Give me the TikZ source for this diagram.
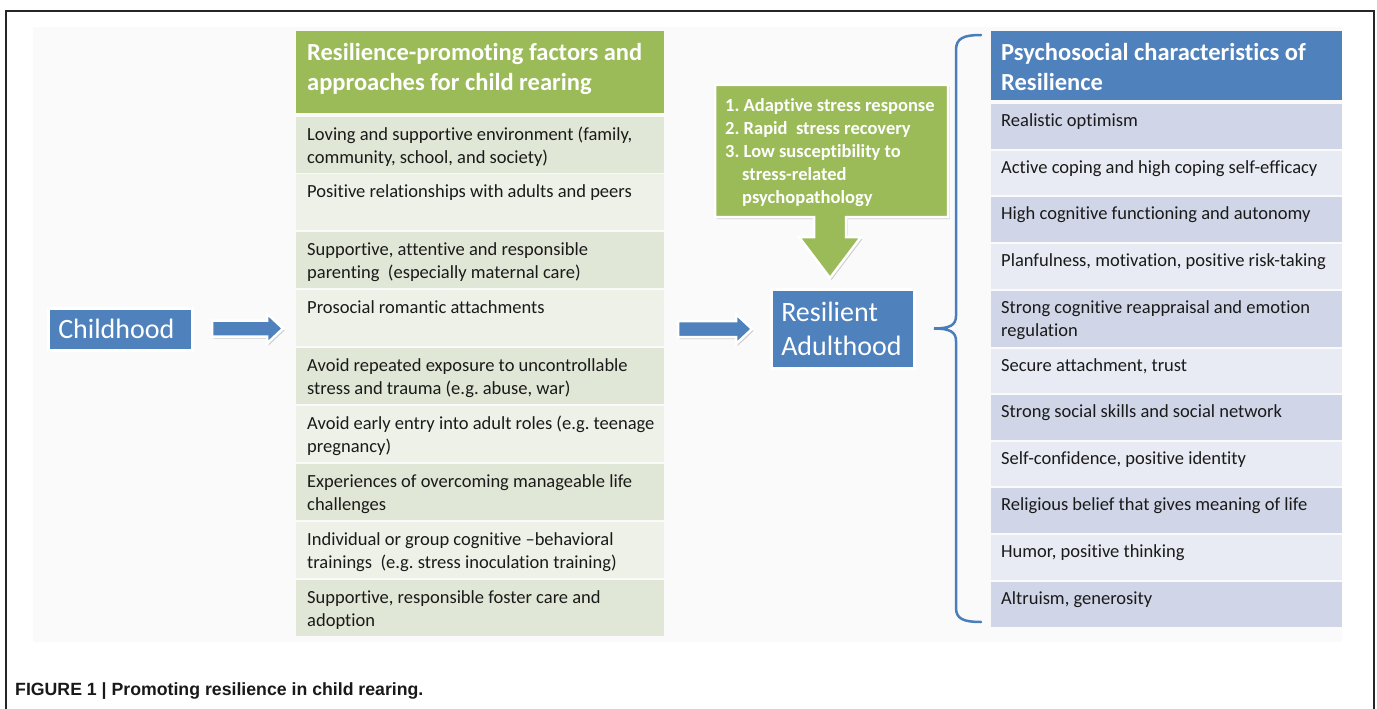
\documentclass[tikz,border=0pt]{standalone}
\usepackage{fontspec}
\setmainfont{Carlito}[Ligatures=NoCommon]
\newfontfamily\capfont{Liberation Sans}
\usetikzlibrary{calc,shadows}
\frenchspacing
\definecolor{gHead}{HTML}{9BBB59}
\definecolor{gRowA}{HTML}{E1E7D6}
\definecolor{gRowB}{HTML}{EEF1E8}
\definecolor{bHead}{HTML}{4F81BD}
\definecolor{bRowA}{HTML}{D0D6E8}
\definecolor{bRowB}{HTML}{E8EBF3}
\definecolor{boxBlue}{HTML}{4F81BD}
\definecolor{braceBlue}{HTML}{4A7EBB}
\definecolor{bgGray}{HTML}{FAFAFA}
\definecolor{txtGray}{HTML}{1A1A1A}
\newcommand\tstr{\rule{0pt}{1em}}
\newcommand\grow[5]{%
  \node[growbox, fill=#4, minimum height=#3pt] (#1) at (296,#2) {};
  \node[txt, rowfont] at ($(#1.north west)+(11,4.5)$) {\tstr #5};}
\newcommand\brow[5]{%
  \node[browbox, fill=#4, minimum height=#3pt] (#1) at (991,#2) {};
  \node[txt, rowfont] at ($(#1.north west)+(10,3.5)$) {\tstr #5};}
\newcommand\barrow[3]{%
  \path[arrowstyle] (#1,#3-8) -- (#2-16,#3-8) -- (#2-16,#3-15) -- (#2,#3)
    -- (#2-16,#3+15) -- (#2-16,#3+8) -- (#1,#3+8) -- cycle;}
\begin{document}
\begin{tikzpicture}[x=1pt,y=-1pt,
  growbox/.style={anchor=north west, inner sep=0pt, minimum width=368pt},
  browbox/.style={anchor=north west, inner sep=0pt, minimum width=351pt},
  txt/.style={anchor=north west, inner sep=0pt, align=left},
  rowfont/.style={font=\fontsize{18.5}{23}\selectfont, text=txtGray},
  headfont/.style={font=\fontsize{24.5}{30}\selectfont\bfseries, text=white},
  shad/.style={drop shadow={shadow xshift=1.5pt, shadow yshift=-2pt, opacity=0.25, fill=black!70}},
  bluebox/.style={shad, fill=boxBlue, draw=white, line width=2.5pt, anchor=north west,
     inner xsep=10pt, inner ysep=0pt, align=left, text=white,
     font=\fontsize{28}{34}\selectfont},
  arrowstyle/.style={shad, fill=boxBlue, draw=white, line width=2.5pt, line join=miter},
  calloutstyle/.style={shad, fill=gHead, draw=white, line width=2.5pt, line join=miter},
  bracestyle/.style={draw=braceBlue, line width=2.5pt, line cap=round},
  framestyle/.style={draw=black!85, line width=1.5pt}
]
\useasboundingbox (0,0) rectangle (1377,709);
\fill[white] (0,0) rectangle (1377,709);
% frame and background
\draw[framestyle] (6,709) -- (6,11) -- (1374,11) -- (1374,709);
\fill[bgGray] (33,27) rectangle (1342,642);

% green table
\node[growbox, fill=gHead, minimum height=82pt] (gh) at (296,31) {};
\node[txt, headfont] at ($(gh.north west)+(11,4.5)$) {\tstr Resilience-promoting factors and\\approaches for child rearing};
\grow{g1}{117}{56}{gRowA}{Loving and supportive environment (family,\\community, school, and society)}
\grow{g2}{174}{56}{gRowB}{Positive relationships with adults and peers}
\grow{g3}{232}{56}{gRowA}{Supportive, attentive and responsible\\parenting~ (especially maternal care)}
\grow{g4}{290}{56}{gRowB}{Prosocial romantic attachments}
\grow{g5}{348}{56}{gRowA}{Avoid repeated exposure to uncontrollable\\stress and trauma (e.g. abuse, war)}
\grow{g6}{406}{56}{gRowB}{Avoid early entry into adult roles (e.g. teenage\\pregnancy)}
\grow{g7}{464}{56}{gRowA}{Experiences of overcoming manageable life\\challenges}
\grow{g8}{522}{56}{gRowB}{Individual or group cognitive –behavioral\\trainings~ (e.g. stress inoculation training)}
\grow{g9}{580}{56}{gRowA}{Supportive, responsible foster care and\\adoption}

% blue table
\node[browbox, fill=bHead, minimum height=69pt] (bh) at (991,31) {};
\node[txt, headfont] at ($(bh.north west)+(10,4.5)$) {\tstr Psychosocial characteristics of\\Resilience};
\brow{b1}{104}{45}{bRowA}{Realistic optimism}
\brow{b2}{151}{44}{bRowB}{Active coping and high coping self-efficacy}
\brow{b3}{197}{45}{bRowA}{High cognitive functioning and autonomy}
\brow{b4}{244}{45}{bRowB}{Planfulness, motivation, positive risk-taking}
\brow{b5}{291}{56}{bRowA}{Strong cognitive reappraisal and emotion\\regulation}
\brow{b6}{349}{44}{bRowB}{Secure attachment, trust}
\brow{b7}{395}{45}{bRowA}{Strong social skills and social network}
\brow{b8}{442}{44}{bRowB}{Self-confidence, positive identity}
\brow{b9}{488}{45}{bRowA}{Religious belief that gives meaning of life}
\brow{b10}{535}{45}{bRowB}{Humor, positive thinking}
\brow{b11}{582}{45}{bRowA}{Altruism, generosity}

% childhood and adulthood boxes
\node[bluebox, minimum width=144pt, minimum height=42pt, text width=124pt] (child) at (47,307) {Childhood};
\node[bluebox, minimum width=143pt, minimum height=79pt, text width=123pt] (adult) at (770,288) {Resilient\\Adulthood};

% block arrows
\barrow{212}{283}{328.5}
\barrow{678}{752}{329}

% callout with down arrow
\path[calloutstyle] (715,85) -- (948,85) -- (948,217) -- (846,217) -- (846,237) -- (861,237)
  -- (830,278) -- (799,237) -- (814,237) -- (814,217) -- (715,217) -- cycle;
\node[txt, font=\fontsize{18.5}{23}\selectfont\bfseries, text=white] (resp) at (725,92.5)
  {\tstr 1. Adaptive stress response\\2. Rapid~ stress recovery\\3. Low susceptibility to\\\hspace*{17pt}stress-related\\\hspace*{17pt}psychopathology};

% brace
\draw[bracestyle] (981,35) .. controls (964,35) and (956,38) .. (956,50) -- (956,316)
  .. controls (956,325) and (950,328.5) .. (934,328.5)
  .. controls (950,328.5) and (956,332) .. (956,341) -- (956,608)
  .. controls (956,619) and (964,622) .. (981,622);

% caption
\node[anchor=base west, inner sep=0pt, text=black!90,
  font=\capfont\fontsize{17.7}{20}\bfseries\selectfont] (cap) at (15,695)
  {FIGURE 1 | Promoting resilience in child rearing.};
\end{tikzpicture}
\end{document}
